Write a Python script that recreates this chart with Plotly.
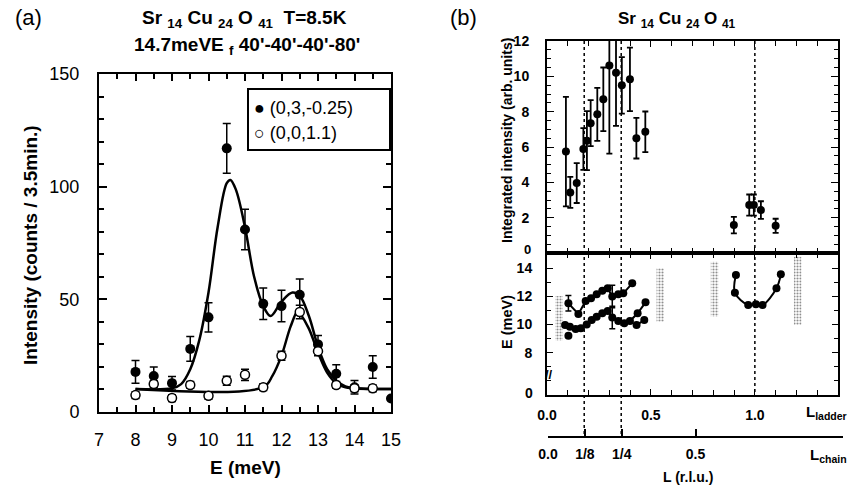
import plotly.graph_objects as go

W, H = 852, 485
def px(x): return x / W
def py(y): return 1 - y / H

# ---------------- Panel (a) data ----------------
a_E_filled = [8, 8.5, 9, 9.5, 10, 10.5, 11, 11.5, 12, 12.5, 13, 13.5, 14, 14.5, 15]
a_I_filled = [17.8, 16, 12.8, 28, 42, 117, 81, 48, 47, 52, 30, 17, 11, 20, 6]
a_err_filled = [5, 4, 3, 5.5, 6.5, 11, 9, 7, 7, 7, 4, 4, 3, 5, 0]

a_E_open = [8, 8.5, 9, 9.5, 10, 10.5, 11, 11.5, 12, 12.5, 13, 13.5, 14, 14.5]
a_I_open = [7.5, 12.4, 6.2, 12, 7.2, 13.9, 16.5, 11, 25, 44.4, 27, 12, 10.5, 10.5]
a_err_open = [1.5, 1.5, 1.5, 1.5, 1.5, 2, 2.5, 1.5, 2, 3, 2, 1.5, 1.5, 1.5]

fit_filled_E = [8, 9, 9.25, 9.5, 9.75, 10, 10.25, 10.5, 10.6, 10.75, 11, 11.25, 11.5, 11.7,
                12, 12.3, 12.5, 12.75, 13, 13.25, 13.5, 13.75, 14, 15]
fit_filled_I = [10.2, 10.5, 12.4, 19, 32, 53, 82, 101.6, 103, 98.7, 82, 60, 47, 42.6,
                49, 53, 51.5, 42.6, 29, 19, 14, 11.4, 10.5, 10.2]
fit_open_E = [8, 11.5, 11.75, 12, 12.25, 12.45, 12.5, 12.75, 13, 13.25, 13.5, 13.75, 15]
fit_open_I = [10.2, 11, 16, 25, 38, 45, 44, 37, 26.4, 17.5, 12.8, 11, 10.2]

a_xticks = [7, 8, 9, 10, 11, 12, 13, 14, 15]
a_yticks = [0, 50, 100, 150]

# ---------------- Panel (b) data ----------------
b_L = [0.091, 0.112, 0.143, 0.175, 0.192, 0.21, 0.242, 0.271, 0.30, 0.332, 0.36, 0.399,
       0.43, 0.473, 0.899, 0.973, 0.995, 1.029, 1.10]
b_I = [5.74, 3.43, 3.96, 5.89, 6.36, 7.35, 7.85, 8.7, 10.62, 10.2, 9.49, 9.83,
       6.5, 6.86, 1.58, 2.71, 2.71, 2.43, 1.54]
b_err = [3.1, 0.88, 1.13, 1.18, 1.67, 1.3, 1.5, 1.8, 5, 3, 1.6, 1.8,
         1.15, 1.15, 0.47, 0.6, 0.6, 0.5, 0.4]

up_L = [0.103, 0.151, 0.186, 0.212, 0.239, 0.266, 0.292, 0.314, 0.343, 0.367, 0.41]
up_E = [11.51, 10.75, 11.67, 11.87, 12.15, 12.41, 12.58, 12.0, 12.15, 12.22, 12.93]
up_err = [0.55, 0, 0, 0, 0, 0, 0, 0.8, 0, 0, 0]

lo_L = [0.087, 0.11, 0.138, 0.163, 0.191, 0.215, 0.239, 0.266, 0.292, 0.314, 0.343,
        0.372, 0.399, 0.436, 0.474]
lo_E = [9.97, 9.85, 9.69, 9.73, 10.0, 10.32, 10.56, 10.8, 10.96, 10.5, 10.25,
        10.09, 10.25, 10.8, 11.58]
lo_err = [0, 0, 0, 0, 0, 0, 0, 0, 0, 0.8, 0, 0, 0, 0, 0]

iso_L = [0.103]
iso_E = [9.21]
seg_L = [0.431, 0.468]
seg_E = [9.97, 10.32]

u_L = [0.909, 0.904, 0.968, 1.005, 1.037, 1.104, 1.125]
u_E = [13.52, 12.27, 11.39, 11.44, 11.39, 12.58, 13.57]

band_L = [0.058, 0.545, 0.806, 1.206]
band_lo = [8.85, 10.2, 10.56, 9.97]
band_hi = [12.03, 14.0, 14.47, 14.82]

dotted_L = [0.179, 0.357, 1.0]

ladder_ticks = [0.0, 0.5, 1.0]
ladder_text = ["0.0", "0.5", "1.0"]
chain_ticks = [0.0, 0.125, 0.25, 0.5, 1.0]
chain_text = ["0.0", "1/8", "1/4", "0.5", ""]
I_ticks = [2, 4, 6, 8, 10, 12]
E_tickvals = [8, 10, 12, 14]
E_ticktext = ["8", "10", "12", "14"]

FONT = "Liberation Sans, Arial, sans-serif"
fig = go.Figure()

# ---- panel (a) traces
fig.add_trace(go.Scatter(x=fit_filled_E, y=fit_filled_I, mode="lines", line_shape="spline",
                         line=dict(color="black", width=2.5), xaxis="x", yaxis="y", showlegend=False))
fig.add_trace(go.Scatter(x=fit_open_E, y=fit_open_I, mode="lines", line_shape="spline",
                         line=dict(color="black", width=2.5), xaxis="x", yaxis="y", showlegend=False))
fig.add_trace(go.Scatter(x=a_E_filled, y=a_I_filled, mode="markers",
                         marker=dict(color="black", size=10),
                         error_y=dict(type="data", array=a_err_filled, color="black", thickness=1.5, width=4),
                         xaxis="x", yaxis="y", showlegend=False))
fig.add_trace(go.Scatter(x=a_E_open, y=a_I_open, mode="markers",
                         marker=dict(color="white", size=9, line=dict(color="black", width=1.5)),
                         error_y=dict(type="data", array=a_err_open, color="black", thickness=1.5, width=4),
                         xaxis="x", yaxis="y", showlegend=False))

# ---- panel (b) upper
fig.add_trace(go.Scatter(x=b_L, y=b_I, mode="markers", marker=dict(color="black", size=8),
                         error_y=dict(type="data", array=b_err, color="black", thickness=1.8, width=3),
                         xaxis="x2", yaxis="y2", showlegend=False, cliponaxis=True))

# ---- panel (b) lower: bands
fig.add_trace(go.Bar(x=band_L, y=[h - l for h, l in zip(band_hi, band_lo)], base=band_lo,
                     width=0.036, marker=dict(color="#e2e2e2", line=dict(width=0),
                                              pattern=dict(shape=".", fgcolor="#8f8f8f", size=3, solidity=0.4)),
                     xaxis="x3", yaxis="y3", showlegend=False))
for xs, ys, errs in [(up_L, up_E, up_err), (lo_L, lo_E, lo_err)]:
    fig.add_trace(go.Scatter(x=xs, y=ys, mode="lines+markers",
                             line=dict(color="black", width=2), marker=dict(color="black", size=8),
                             error_y=dict(type="data", array=errs, color="black", thickness=1.5, width=3),
                             xaxis="x3", yaxis="y3", showlegend=False))
fig.add_trace(go.Scatter(x=iso_L, y=iso_E, mode="markers", marker=dict(color="black", size=8),
                         xaxis="x3", yaxis="y3", showlegend=False))
fig.add_trace(go.Scatter(x=seg_L, y=seg_E, mode="lines+markers", line=dict(color="black", width=2),
                         marker=dict(color="black", size=8), xaxis="x3", yaxis="y3", showlegend=False))
fig.add_trace(go.Scatter(x=u_L, y=u_E, mode="lines+markers", line=dict(color="black", width=2),
                         line_shape="spline", marker=dict(color="black", size=8),
                         xaxis="x3", yaxis="y3", showlegend=False))
# invisible trace to instantiate the chain axis
fig.add_trace(go.Scatter(x=[0.5], y=[10], mode="markers", marker=dict(opacity=0),
                         xaxis="x4", yaxis="y3", showlegend=False, hoverinfo="skip"))

# ---- dotted guide lines
shapes = []
for i, L in enumerate(dotted_L):
    shapes.append(dict(type="line", xref="x2", yref="paper", x0=L, x1=L,
                       y0=py(41), y1=py(437) if i < 2 else py(395),
                       line=dict(color="black", width=1.5, dash="dot")))
# legend box panel (a)
shapes.append(dict(type="rect", xref="paper", yref="paper", x0=px(248), x1=px(390),
                   y0=py(89), y1=py(150), line=dict(color="black", width=2), fillcolor="white", layer="above"))

tickfont_a = dict(family=FONT, size=18, color="black")
tickfont_b = dict(family=FONT, size=14, color="black", weight="bold")
common = dict(showgrid=False, zeroline=False, automargin=False, showline=True, linewidth=2,
              linecolor="black", tickcolor="black")

fig.update_layout(
    template="none",
    width=W, height=H, margin=dict(l=0, r=0, t=0, b=0, pad=0, autoexpand=False),
    paper_bgcolor="white", plot_bgcolor="rgba(0,0,0,0)", barmode="overlay",
    font=dict(family=FONT, color="black"),
    shapes=shapes,
    xaxis=dict(domain=[px(99), px(391)], range=[7, 15], anchor="y",
               tickvals=a_xticks, ticks="inside", ticklen=7, tickwidth=1.5,
               minor=dict(tickmode="linear", tick0=7, dtick=0.5, ticks="inside", ticklen=5, tickcolor="black"),
               mirror="ticks", tickfont=tickfont_a, ticklabelstandoff=10, **common),
    yaxis=dict(domain=[py(412), py(74)], range=[0, 150], anchor="x",
               tickvals=a_yticks, ticks="inside", ticklen=8, tickwidth=1.5,
               minor=dict(tickmode="linear", tick0=0, dtick=10, ticks="inside", ticklen=5, tickcolor="black"),
               mirror="ticks", tickfont=tickfont_a, ticklabelstandoff=14, **common),
    xaxis2=dict(domain=[px(547), px(838)], range=[0, 1.4], anchor="y2",
                tickvals=ladder_ticks, showticklabels=False, ticks="inside", ticklen=6,
                minor=dict(tickmode="linear", tick0=0, dtick=0.1, ticks="inside", ticklen=5, tickcolor="black"),
                mirror="ticks", **common),
    yaxis2=dict(domain=[py(253), py(41)], range=[0, 12], anchor="x2",
                tickvals=I_ticks, ticks="inside", ticklen=7,
                minor=dict(tickmode="linear", tick0=0, dtick=0.5, ticks="inside", ticklen=4, tickcolor="black"),
                mirror="ticks", tickfont=tickfont_b, ticklabelstandoff=13, **common),
    xaxis3=dict(domain=[px(547), px(838)], range=[0, 1.4], anchor="y3",
                tickvals=ladder_ticks, ticktext=ladder_text, ticks="inside", ticklen=6,
                minor=dict(tickmode="linear", tick0=0, dtick=0.1, ticks="inside", ticklen=5, tickcolor="black"),
                mirror="ticks", tickfont=tickfont_b, ticklabelstandoff=6, **common),
    yaxis3=dict(domain=[py(395), py(253)], range=[4.99, 15.09], anchor="x3",
                tickvals=E_tickvals, ticktext=E_ticktext, ticks="inside", ticklen=6,
                minor=dict(tickmode="linear", tick0=0, dtick=1, ticks="inside", ticklen=4, tickcolor="black"),
                mirror="ticks", tickfont=tickfont_b, ticklabelstandoff=10, **common),
    xaxis4=dict(domain=[px(548), px(843)], range=[0, 1.0], anchor="free", position=py(437), side="bottom",
                tickvals=chain_ticks, ticktext=chain_text, ticks="inside", ticklen=7, tickwidth=1.5,
                tickfont=tickfont_b, ticklabelstandoff=4, **common),
)

ann = []
def A(x, y, text, size, bold=True, angle=0, xanchor="center", family=FONT):
    ann.append(dict(x=px(x), y=py(y), xref="paper", yref="paper", text=(f"<b>{text}</b>" if bold else text),
                    showarrow=False, textangle=angle, xanchor=xanchor, yanchor="middle",
                    font=dict(family=family, size=size, color="black")))

A(28, 18, "(a)", 22, bold=False)
A(244, 19, "Sr <sub>14</sub> Cu <sub>24</sub> O <sub>41</sub>  T=8.5K", 19)
A(247, 46, "14.7meVE <sub>f</sub> 40'-40'-40'-80'", 19)
A(30, 245, "Intensity (counts / 3.5min.)", 19, angle=-90)
A(245, 467, "E (meV)", 19)
A(252, 108, "● (0,3,-0.25)", 18, bold=False, xanchor="left")
A(252, 133, "○ (0,0,1.1)", 18, bold=False, xanchor="left")

A(463, 18, "(b)", 22, bold=False)
A(677, 20, "Sr <sub>14</sub> Cu <sub>24</sub> O <sub>41</sub>", 17)
A(507, 141, "Integrated intensity (arb. units)", 14, angle=-90)
A(507, 322, "E (meV)", 14.5, angle=-90)
A(533, 250, "0", 13, xanchor="right")
A(535, 393, "0", 14, xanchor="right")
A(549, 374, "//", 13)
A(849, 412, "L<sub>ladder</sub>", 15, xanchor="right")
A(849, 455, "L<sub>chain</sub>", 15, xanchor="right")
A(688, 477, "L (r.l.u.)", 14)
fig.update_layout(annotations=ann)

fig.write_html("out.html", config={"displayModeBar": False},
               post_script="document.body.style.margin='0';document.body.style.padding='0';")
